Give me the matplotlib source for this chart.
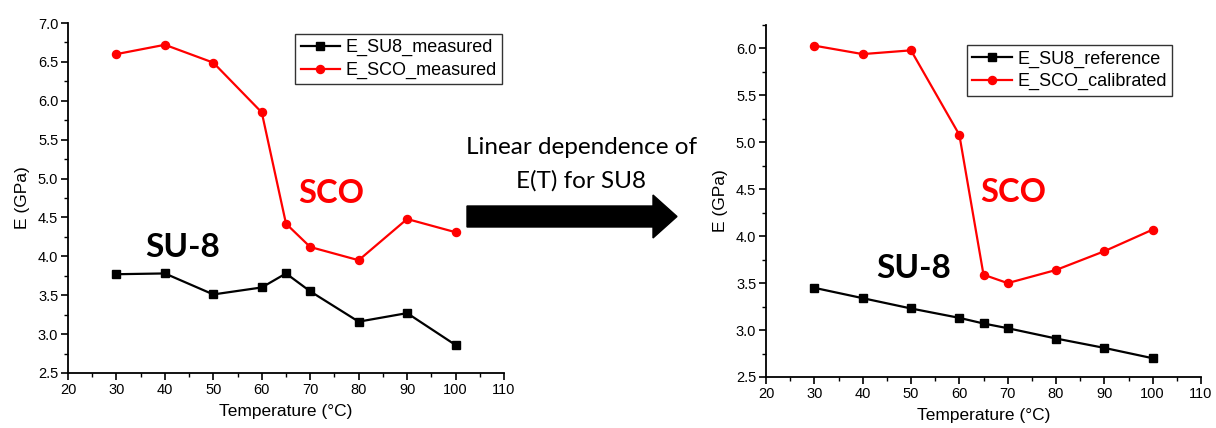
import matplotlib
matplotlib.use("Agg")
import matplotlib.pyplot as plt
from matplotlib.patches import Polygon
from matplotlib.ticker import MultipleLocator

plt.rcParams["font.family"] = ["Liberation Sans", "DejaVu Sans"]

# temperatures shared by all series
temp = [30, 40, 50, 60, 65, 70, 80, 90, 100]

# left panel: measured values
su8_measured = [3.77, 3.78, 3.51, 3.60, 3.78, 3.55, 3.16, 3.27, 2.86]
sco_measured = [6.60, 6.72, 6.49, 5.85, 4.42, 4.12, 3.95, 4.48, 4.31]

# right panel: linear SU8 reference and calibrated SCO
su8_reference = [3.45, 3.34, 3.23, 3.13, 3.07, 3.02, 2.91, 2.81, 2.70]
sco_calibrated = [6.03, 5.94, 5.98, 5.08, 3.59, 3.50, 3.64, 3.84, 4.07]

W, H = 1216, 428
fig = plt.figure(figsize=(W / 100, H / 100), dpi=100)

LABEL_FONT = ["Lato", "DejaVu Sans"]


def style_axes(ax, ylim):
    ax.set_xlim(20, 110)
    ax.set_ylim(*ylim)
    ax.xaxis.set_major_locator(MultipleLocator(10))
    ax.xaxis.set_minor_locator(MultipleLocator(5))
    ax.yaxis.set_major_locator(MultipleLocator(0.5))
    ax.yaxis.set_minor_locator(MultipleLocator(0.25))
    ax.yaxis.set_major_formatter(plt.FormatStrFormatter("%.1f"))
    for side in ("top", "right"):
        ax.spines[side].set_visible(False)
    for side in ("left", "bottom"):
        ax.spines[side].set_linewidth(1.3)
    ax.tick_params(which="major", direction="out", length=5, width=1.2,
                   labelsize=10.5, pad=2)
    ax.tick_params(which="minor", direction="out", length=3, width=1.0)
    ax.set_xlabel("Temperature (°C)", fontsize=12.5, labelpad=5)
    ax.set_ylabel("E (GPa)", fontsize=12.5, labelpad=6)


def draw_series(ax, su8, sco, su8_label, sco_label, anchor):
    ax.plot(temp, su8, color="black", lw=1.6, marker="s", ms=5.8, label=su8_label)
    ax.plot(temp, sco, color="#ff0000", lw=1.6, marker="o", ms=5.8, label=sco_label)
    leg = ax.legend(loc="upper left", bbox_to_anchor=anchor, fontsize=13,
                    frameon=True, fancybox=False, edgecolor="black",
                    handlelength=2.2, handletextpad=0.3, borderpad=0.3,
                    labelspacing=0.3, borderaxespad=0.0)
    leg.get_frame().set_linewidth(1.0)
    return leg


# left panel
ax1 = fig.add_axes([68 / W, 1 - 373 / H, 436 / W, 350 / H])
style_axes(ax1, (2.5, 7.0))
draw_series(ax1, su8_measured, sco_measured, "E_SU8_measured", "E_SCO_measured",
            (0.521, 0.969))
ax1.text(43.7, 4.12, "SU-8", fontsize=24, fontweight="bold", family=LABEL_FONT,
         color="black", ha="center", va="center")
ax1.text(74.3, 4.81, "SCO", fontsize=23.5, fontweight="bold", family=LABEL_FONT,
         color="#ff0000", ha="center", va="center")

# right panel
ax2 = fig.add_axes([766 / W, 1 - 377 / H, 435 / W, 352 / H])
style_axes(ax2, (2.5, 6.25))
draw_series(ax2, su8_reference, sco_calibrated, "E_SU8_reference", "E_SCO_calibrated",
            (0.462, 0.943))
ax2.text(50.6, 3.66, "SU-8", fontsize=24, fontweight="bold", family=LABEL_FONT,
         color="black", ha="center", va="center")
ax2.text(71.1, 4.47, "SCO", fontsize=23.5, fontweight="bold", family=LABEL_FONT,
         color="#ff0000", ha="center", va="center")

# connecting arrow with caption (pixel layout converted to figure fraction)
arrow_px = [(467, 206), (653, 206), (653, 195), (677, 216.5),
            (653, 238), (653, 227), (467, 227)]
fig.patches.append(Polygon([(x / W, 1 - y / H) for x, y in arrow_px], closed=True,
                           facecolor="black", edgecolor="black",
                           transform=fig.transFigure, figure=fig))
fig.text(581 / W, 1 - 147 / H, "Linear dependence of", fontsize=17.5,
         family=LABEL_FONT, ha="center", va="center")
fig.text(581 / W, 1 - 181 / H, "E(T) for SU8", fontsize=17.5,
         family=LABEL_FONT, ha="center", va="center")

fig.savefig("out.png", dpi=100)
